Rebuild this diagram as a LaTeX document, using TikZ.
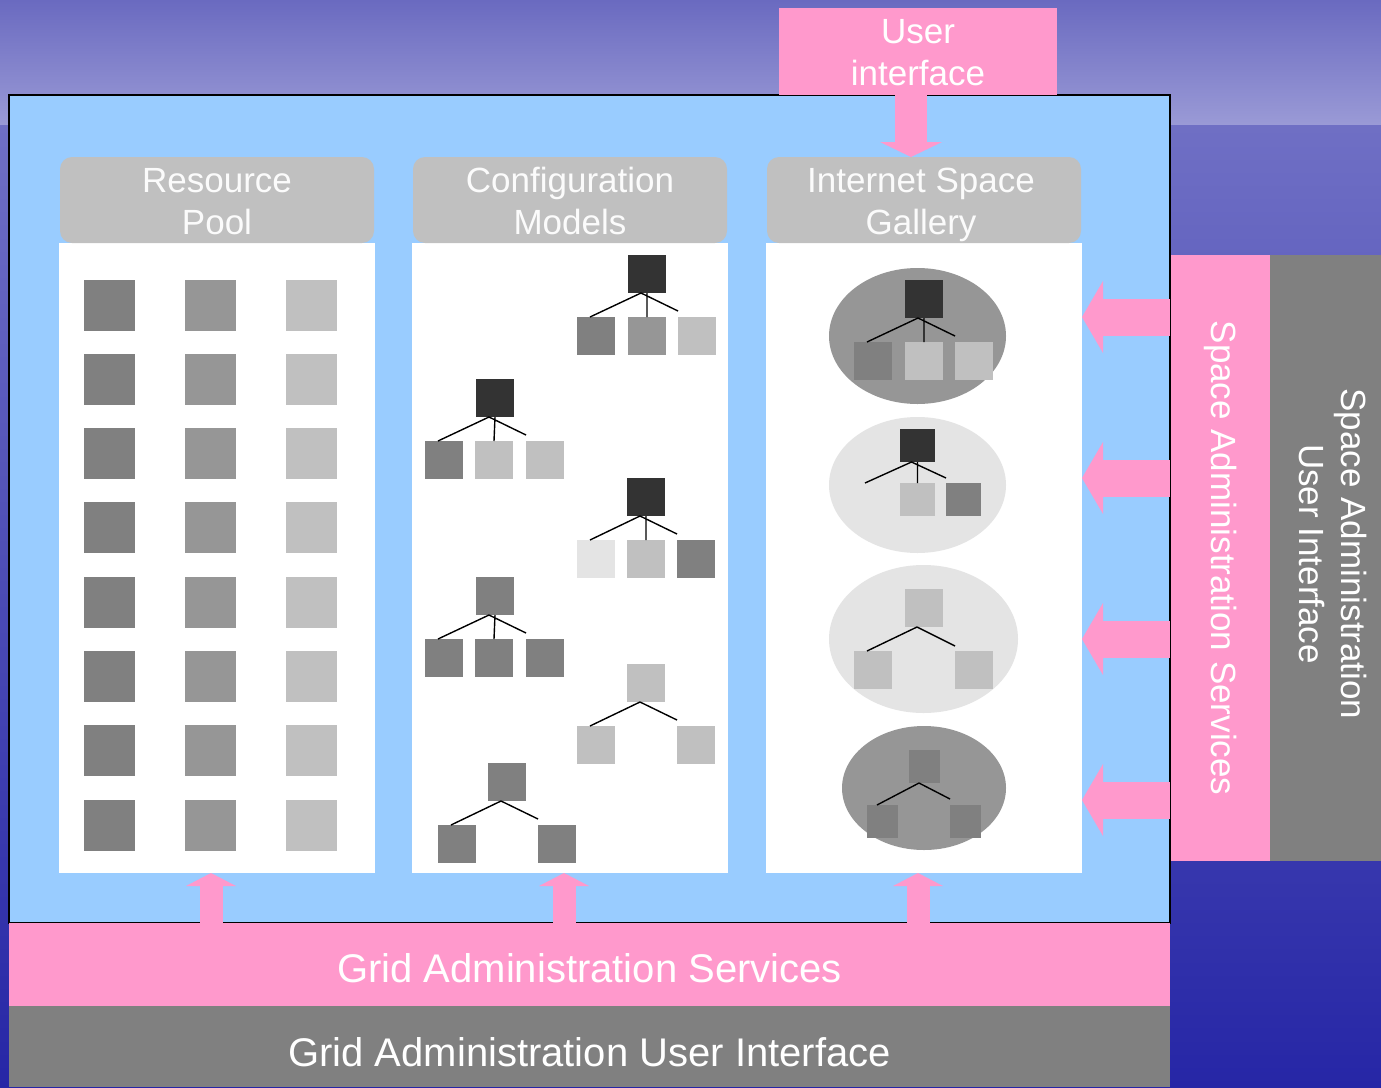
\documentclass[tikz,border=0pt]{standalone}
\usepackage{fontspec}
\setmainfont{Liberation Sans}
\usetikzlibrary{arrows.meta,shapes.geometric}
\definecolor{skyblue}{HTML}{99CCFF}
\definecolor{rosepink}{HTML}{FF99CC}
\definecolor{gA}{HTML}{333333}
\definecolor{gB}{HTML}{808080}
\definecolor{gC}{HTML}{969696}
\definecolor{gD}{HTML}{C0C0C0}
\definecolor{gE}{HTML}{E4E4E4}
\definecolor{bgtop}{HTML}{6A6AC0}
\definecolor{bgband}{HTML}{9A9AD6}
\definecolor{bgmid}{HTML}{4C4CB6}
\definecolor{bgbottom}{HTML}{2626A6}
\begin{document}
\begin{tikzpicture}[
		x=0.5pt, y=-0.5pt,
		every node/.style={inner sep=0pt, outer sep=0pt},
		bar/.style={rectangle, minimum width=580.5pt},
		barlabel/.style={anchor=base, text=white, font=\fontsize{20}{24}\selectfont},
		sidelabel/.style={text=white, align=center, rotate=-90, font=\fontsize{17.5}{21}\selectfont},
		head/.style={rectangle, rounded corners=6pt, fill=gD, minimum width=157pt, minimum height=43pt},
		headlabel/.style={anchor=base, align=center, text=white!94!gD, font=\fontsize{17.5}{21}\selectfont},
		panel/.style={rectangle, fill=white, minimum width=158pt, minimum height=315pt},
		blk/.style={rectangle, minimum size=25.5pt},
		sq/.style={rectangle, minimum size=19pt},
		blob/.style={ellipse},
		tline/.style={black, line width=0.7pt},
		downarrow/.style={draw=rosepink, line width=16pt, -{Triangle[length=7.5pt, width=31pt, line width=0pt]}},
		uparrow/.style={draw=rosepink, line width=11.5pt, -{Triangle[length=6.5pt, width=25pt, line width=0pt]}},
		leftarrow/.style={draw=rosepink, line width=18.5pt, -{Triangle[length=10.5pt, width=36pt, line width=0pt]}}
		]
		\useasboundingbox (0,0) rectangle (1381,1087);
		\shade[top color=bgtop, bottom color=bgband] (0,0) rectangle (1381,125);
		\shade[top color=bgband!45!bgmid, middle color=bgmid, bottom color=bgbottom] (0,125) rectangle (1381,1087);
		
		\node[rectangle, fill=skyblue, draw=black, line width=0.6pt, minimum width=580.5pt, minimum height=414pt] (main) at (589.5,509) {};
		\node[rectangle, fill=rosepink, minimum width=139pt, minimum height=43.5pt] (ui) at (918,51.5) {};
		\node[headlabel, text=white] (uil) at (918,85) {User\\interface};
		\node[bar, fill=rosepink, minimum height=41.5pt] (gas) at (589.5,964.5) {};
		\node[barlabel] (gasl) at (589.5,982) {Grid Administration Services};
		\node[bar, fill=gB, minimum height=40.5pt] (gaui) at (589.5,1046.5) {};
		\node[barlabel] (gauil) at (589.5,1066) {Grid Administration User Interface};
		\node[rectangle, fill=rosepink, minimum width=49.5pt, minimum height=303pt] (sas) at (1220.5,558) {};
		\node[sidelabel] (sasl) at (1221,558) {Space Administration Services};
		\node[rectangle, fill=gB, minimum width=55.5pt, minimum height=303pt] (saui) at (1325.5,558) {};
		\node[sidelabel] (sauil) at (1333,554) {Space Administration\\User Interface};
		
		\node[panel] (pool) at (217,558) {};
		\node[panel] (models) at (570,558) {};
		\node[panel] (gallery) at (924,558) {};
		\node[head] (poolh) at (217,200) {};
		\node[head] (modelsh) at (570,200) {};
		\node[head] (galleryh) at (924,200) {};
		\node[headlabel] (poolhl) at (217,234) {Resource\\Pool};
		\node[headlabel] (modelshl) at (570,234) {Configuration\\Models};
		\node[headlabel] (galleryhl) at (921,234) {Internet Space\\Gallery};
		
		\foreach \r in {0,...,7} {
			\node[blk, fill=gB] (rp-\r-1) at (109.5,{305+74.3*\r}) {};
			\node[blk, fill=gC] (rp-\r-2) at (210.5,{305+74.3*\r}) {};
			\node[blk, fill=gD] (rp-\r-3) at (311.5,{305+74.3*\r}) {};
		}
		
		\node[sq, fill=gA] (ta) at (647,274) {};
		\node[sq, fill=gB] (ta1) at (596,336) {};
		\node[sq, fill=gC] (ta2) at (647,336) {};
		\node[sq, fill=gD] (ta3) at (697,336) {};
		\draw[tline] ([xshift=-3pt]ta.south) -- ([xshift=-3pt]ta1.north)
			([xshift=-3pt]ta.south) -- ([yshift=3pt]ta3.north west)
			(ta.south) -- (ta2.north);
		
		\node[sq, fill=gA] (tb) at (495,398) {};
		\node[sq, fill=gB] (tb1) at (444,460) {};
		\node[sq, fill=gD] (tb2) at (494,460) {};
		\node[sq, fill=gD] (tb3) at (545,460) {};
		\draw[tline] ([xshift=-3pt]tb.south) -- ([xshift=-3pt]tb1.north)
			([xshift=-3pt]tb.south) -- ([yshift=3pt]tb3.north west)
			(tb.south) -- (tb2.north);
		
		\node[sq, fill=gA] (tc) at (646,497) {};
		\node[sq, fill=gE] (tc1) at (596,559) {};
		\node[sq, fill=gD] (tc2) at (646,559) {};
		\node[sq, fill=gB] (tc3) at (696,559) {};
		\draw[tline] ([xshift=-3pt]tc.south) -- ([xshift=-3pt]tc1.north)
			([xshift=-3pt]tc.south) -- ([yshift=3pt]tc3.north west)
			(tc.south) -- (tc2.north);
		
		\node[sq, fill=gB] (td) at (495,596) {};
		\node[sq, fill=gB] (td1) at (444,658) {};
		\node[sq, fill=gB] (td2) at (494,658) {};
		\node[sq, fill=gB] (td3) at (545,658) {};
		\draw[tline] ([xshift=-3pt]td.south) -- ([xshift=-3pt]td1.north)
			([xshift=-3pt]td.south) -- ([yshift=3pt]td3.north west)
			(td.south) -- (td2.north);
		
		\node[sq, fill=gD] (te) at (646,683) {};
		\node[sq, fill=gD] (te1) at (596,745) {};
		\node[sq, fill=gD] (te2) at (696,745) {};
		\draw[tline] ([xshift=-3pt]te.south) -- ([xshift=-3pt]te1.north)
			([xshift=-3pt]te.south) -- ([yshift=3pt]te2.north west);
		
		\node[sq, fill=gB] (tf) at (507,782) {};
		\node[sq, fill=gB] (tf1) at (457,844) {};
		\node[sq, fill=gB] (tf2) at (557,844) {};
		\draw[tline] ([xshift=-3pt]tf.south) -- ([xshift=-3pt]tf1.north)
			([xshift=-3pt]tf.south) -- ([yshift=3pt]tf2.north west);
		
		\node[blob, fill=gC, minimum width=88.5pt, minimum height=68pt] (e1) at (917.5,336) {};
		\node[sq, fill=gA] (ga) at (924,299) {};
		\node[sq, fill=gB] (ga1) at (873,361) {};
		\node[sq, fill=gD] (ga2) at (924,361) {};
		\node[sq, fill=gD] (ga3) at (974,361) {};
		\draw[tline] ([xshift=-3pt]ga.south) -- ([xshift=-3pt]ga1.north)
			([xshift=-3pt]ga.south) -- ([yshift=3pt]ga3.north west)
			(ga.south) -- (ga2.north);
		
		\node[blob, fill=gE, minimum width=88.5pt, minimum height=68pt] (e2) at (917.5,485) {};
		\node[sq, fill=gA, minimum width=17.5pt, minimum height=16.5pt] (gb) at (917.5,445.5) {};
		\node[sq, fill=gD, minimum width=17.5pt, minimum height=16.5pt] (gb1) at (917.5,499.5) {};
		\node[sq, fill=gB, minimum width=17.5pt, minimum height=16.5pt] (gb2) at (963.5,499.5) {};
		\coordinate (gbl) at (865,483);
		\draw[tline] ([xshift=-3pt]gb.south) -- (gbl)
			([xshift=-3pt]gb.south) -- ([yshift=2.5pt]gb2.north west)
			(gb.south) -- (gb1.north);
		
		\node[blob, fill=gE, minimum width=94.5pt, minimum height=74pt] (e3) at (923.5,639) {};
		\node[sq, fill=gD] (gc) at (924,608) {};
		\node[sq, fill=gD] (gc1) at (873,670) {};
		\node[sq, fill=gD] (gc2) at (974,670) {};
		\draw[tline] ([xshift=-3.5pt]gc.south) -- ([xshift=-3pt]gc1.north)
			([xshift=-3.5pt]gc.south) -- ([yshift=2.5pt]gc2.north west);
		
		\node[blob, fill=gC, minimum width=82pt, minimum height=62pt] (e4) at (924,788) {};
		\node[sq, fill=gB, minimum width=15.5pt, minimum height=16.5pt] (gd) at (924.5,766.5) {};
		\node[sq, fill=gB, minimum width=15.5pt, minimum height=16.5pt] (gd1) at (882.5,821.5) {};
		\node[sq, fill=gB, minimum width=15.5pt, minimum height=16.5pt] (gd2) at (965.5,821.5) {};
		\draw[tline] ([xshift=-2.75pt]gd.south) -- ([xshift=-2.75pt]gd1.north)
			([xshift=-2.75pt]gd.south) -- ([yshift=3pt]gd2.north west);
		
		\draw[downarrow] (ui.south -| 911,0) -- (galleryh.north -| 911,0);
		\foreach \x/\p in {211/pool, 564/models, 918/gallery}
			\draw[uparrow] (gas.north -| \x,0) -- (\p.south -| \x,0);
		\foreach \y in {317,478,639,800}
			\draw[leftarrow] (main.east |- 0,\y) -- (gallery.east |- 0,\y);
	\end{tikzpicture}
\end{document}
